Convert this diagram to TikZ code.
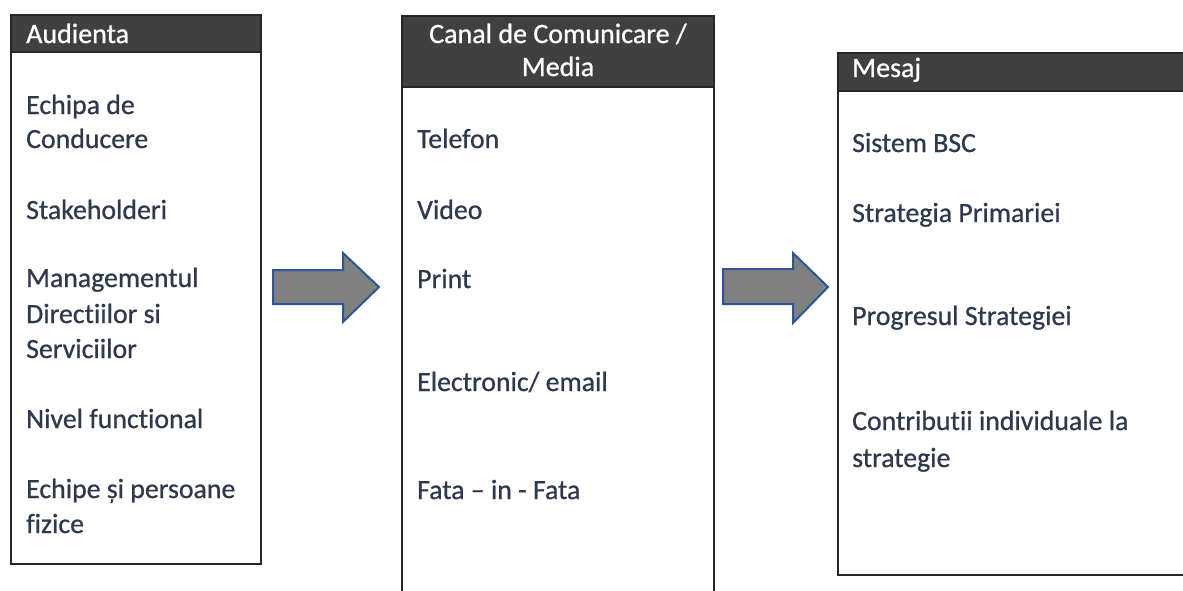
\documentclass[tikz,border=0pt]{standalone}
\usepackage{fontspec}
\setmainfont{Carlito}[Ligatures={NoCommon}]
\newfontfamily\itemfont{Carlito}[Ligatures={NoCommon},FakeBold=0.8]
\definecolor{txt}{HTML}{2E3A4C}
\definecolor{hdr}{HTML}{404040}
\definecolor{arrfill}{HTML}{808080}
\definecolor{arrline}{HTML}{2F5597}
\begin{document}
\begin{tikzpicture}[x=1pt,y=-1pt,
  box/.style={draw=black!85, line width=1.6pt, inner sep=0pt, anchor=north west},
  head/.style={fill=hdr, draw=black!85, line width=1.6pt, inner sep=0pt, anchor=north west},
  item/.style={anchor=base west, inner sep=0pt, text=txt, font=\itemfont\fontsize{27.8}{35}\selectfont},
  htxt/.style={inner sep=0pt, text=white, font=\itemfont\fontsize{28}{32}\selectfont},
  blockarrow/.style={fill=arrfill, draw=arrline, line width=2pt, line join=miter}]
\useasboundingbox (0,0) rectangle (1183,590);
\clip (0,0) rectangle (1183,590);
% boxes
\node[box, minimum width=250pt, minimum height=549pt] (b1) at (10,14) {};
\node[head, minimum width=250pt, minimum height=37pt] (h1) at (10,14) {};
\node[box, minimum width=312pt, minimum height=600pt] (b2) at (401,15) {};
\node[head, minimum width=312pt, minimum height=71pt] (h2) at (401,15) {};
\node[box, minimum width=360pt, minimum height=522pt] (b3) at (837,52) {};
\node[head, minimum width=360pt, minimum height=38pt] (h3) at (837,52) {};
% headers
\node[htxt, anchor=base west] (t1) at (26,43) {Audienta};
\node[htxt, anchor=base] (t2a) at (558,43) {Canal de Comunicare /};
\node[htxt, anchor=base] (t2b) at (558,76) {Media};
\node[htxt, anchor=base west] (t3) at (852,77) {Mesaj};
% column 1
\node[item] (a1) at (26,114) {Echipa de};
\node[item] (a2) at (26,148) {Conducere};
\node[item] (a3) at (26,219) {Stakeholderi};
\node[item] (a4) at (26,287) {Managementul};
\node[item] (a5) at (26,323) {Directiilor si};
\node[item] (a6) at (26,358) {Serviciilor};
\node[item] (a7) at (26,428) {Nivel functional};
\node[item] (a8) at (26,498) {Echipe și persoane};
\node[item] (a9) at (26,533) {fizice};
% column 2
\node[item] (c1) at (417,148) {Telefon};
\node[item] (c2) at (417,219) {Video};
\node[item] (c3) at (417,288) {Print};
\node[item] (c4) at (417,391) {Electronic/ email};
\node[item] (c5) at (417,499) {Fata – in - Fata};
% column 3
\node[item] (m1) at (852,152) {Sistem BSC};
\node[item] (m2) at (852,222) {Strategia Primariei};
\node[item] (m3) at (852,325) {Progresul Strategiei};
\node[item] (m4) at (852,430) {Contributii individuale la};
\node[item] (m5) at (852,467) {strategie};
% block arrows
\draw[blockarrow] (273,270) -- (343,270) -- (343,253) -- (379,287) -- (343,322) -- (343,304) -- (273,304) -- cycle;
\draw[blockarrow] (723,269) -- (793,269) -- (793,253) -- (828,287) -- (793,323) -- (793,304) -- (723,304) -- cycle;
\end{tikzpicture}
\end{document}
